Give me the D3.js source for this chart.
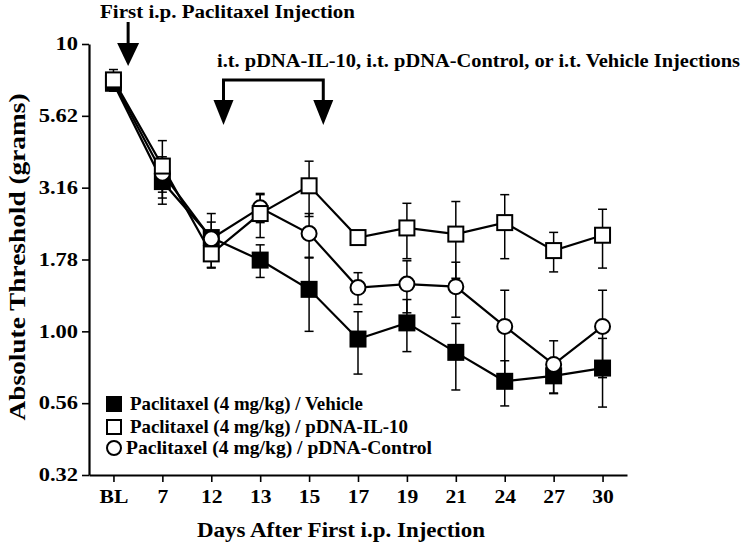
<!DOCTYPE html>
<html>
<head>
<meta charset="utf-8">
<script src="https://cdn.jsdelivr.net/npm/d3@7"></script>
<style>
  body { margin: 0; background: #fff; }
  text { font-family: "Liberation Serif", "Times New Roman", serif; font-weight: bold; fill: #000; }
</style>
</head>
<body>
<div id="chart"></div>
<script>
// days after first i.p. injection
var days = ["BL", "7", "12", "13", "15", "17", "19", "21", "24", "27", "30"];

// Paclitaxel / Vehicle (filled squares)
var vehicle = [7.3, 3.32, 2.12, 1.77, 1.40, 0.94, 1.07, 0.845, 0.67, 0.70, 0.745];
var vehicleSem = [0.3, 0.55, 0.45, 0.23, 0.4, 0.23, 0.22, 0.22, 0.12, 0.09, 0.2];

// Paclitaxel / pDNA-IL-10 (open squares)
var il10 = [7.5, 3.76, 1.86, 2.57, 3.21, 2.12, 2.29, 2.18, 2.39, 1.91, 2.16];
var il10Sem = [0.65, 0.85, 0.2, 0.45, 0.7, 0.1, 0.5, 0.65, 0.6, 0.3, 0.5];

// Paclitaxel / pDNA-Control (open circles)
var control = [7.4, 3.55, 2.1, 2.69, 2.19, 1.42, 1.46, 1.43, 1.04, 0.767, 1.04];
var controlSem = [0.3, 0.5, 0.3, 0.3, 0.38, 0.18, 0.3, 0.31, 0.35, 0.16, 0.35];

var yTicks = [Math.pow(10, -0.5), Math.pow(10, -0.25), 1, Math.pow(10, 0.25), Math.pow(10, 0.5), Math.pow(10, 0.75), 10];
var yTickLabels = ["0.32", "0.56", "1.00", "1.78", "3.16", "5.62", "10"];

var legendLabels = [
  "Paclitaxel (4 mg/kg) / Vehicle",
  "Paclitaxel (4 mg/kg) / pDNA-IL-10",
  "Paclitaxel (4 mg/kg) / pDNA-Control"
];

var svgWidth = 746;
var svgHeight = 545;

var svg = d3.select("#chart")
  .append("svg")
  .attr("width", svgWidth)
  .attr("height", svgHeight);

// the original lettering is a bit wider than Liberation Serif, so stretch glyphs
function widen(sel, factor) {
  sel.each(function() {
    var len = this.getComputedTextLength();
    d3.select(this)
      .attr("textLength", len * factor)
      .attr("lengthAdjust", "spacingAndGlyphs");
  });
}

var x = d3.scalePoint()
  .domain(days)
  .range([89, 627])
  .padding(0.5);

var y = d3.scaleLog()
  .domain([Math.pow(10, -0.5), 10])
  .range([475, 44]);

// axes
var leftAxis = d3.axisLeft(y)
  .tickValues(yTicks)
  .tickFormat(function(d, i) { return yTickLabels[i]; })
  .tickSize(7)
  .tickSizeOuter(0)
  .tickPadding(4);

var yAxisG = svg.append("g")
  .attr("transform", "translate(89,0)")
  .call(leftAxis);
yAxisG.select(".domain").attr("stroke-width", 2.2);
yAxisG.selectAll(".tick line").attr("stroke-width", 1.6);
yAxisG.selectAll("text")
  .style("font-size", "18px")
  .attr("font-family", null)
  .call(widen, 1.25);

var bottomAxis = d3.axisBottom(x)
  .tickSize(7)
  .tickSizeOuter(0)
  .tickPadding(8);

var xAxisG = svg.append("g")
  .attr("transform", "translate(0,475)")
  .call(bottomAxis);
xAxisG.select(".domain").attr("stroke-width", 2.2);
xAxisG.selectAll(".tick line").attr("stroke-width", 1.6);
xAxisG.selectAll("text")
  .style("font-size", "18px")
  .attr("font-family", null)
  .call(widen, 1.2);

// axis titles
svg.append("text")
  .attr("transform", "translate(25,257) rotate(-90)")
  .attr("text-anchor", "middle")
  .style("font-size", "23px")
  .text("Absolute Threshold (grams)")
  .attr("textLength", 327)
  .attr("lengthAdjust", "spacingAndGlyphs");

svg.append("text")
  .attr("x", 341)
  .attr("y", 537)
  .attr("text-anchor", "middle")
  .style("font-size", "21px")
  .text("Days After First i.p. Injection")
  .attr("textLength", 288)
  .attr("lengthAdjust", "spacingAndGlyphs");

// annotations
svg.append("text")
  .attr("x", 100)
  .attr("y", 18)
  .style("font-size", "18px")
  .text("First i.p. Paclitaxel Injection")
  .attr("textLength", 255)
  .attr("lengthAdjust", "spacingAndGlyphs");

var arrowX = x("BL") + x.step() * 0.3;
svg.append("line")
  .attr("x1", arrowX).attr("x2", arrowX)
  .attr("y1", 22).attr("y2", 45)
  .attr("stroke", "#000")
  .attr("stroke-width", 3);
svg.append("path")
  .attr("d", `M${arrowX - 11},43 L${arrowX + 11},43 L${arrowX},66 Z`)
  .attr("fill", "#000");

svg.append("text")
  .attr("x", 217)
  .attr("y", 67)
  .style("font-size", "18px")
  .text("i.t. pDNA-IL-10, i.t. pDNA-Control, or i.t. Vehicle Injections")
  .attr("textLength", 523)
  .attr("lengthAdjust", "spacingAndGlyphs");

var bx1 = x("12") + x.step() * 0.25;
var bx2 = x("15") + x.step() * 0.29;
svg.append("path")
  .attr("d", `M${bx1},103 L${bx1},80 L${bx2},80 L${bx2},103`)
  .attr("fill", "none")
  .attr("stroke", "#000")
  .attr("stroke-width", 3);
[bx1, bx2].forEach(function(bx) {
  svg.append("path")
    .attr("d", `M${bx - 10},100 L${bx + 10},100 L${bx},125 Z`)
    .attr("fill", "#000");
});

// series
var series = [
  { values: vehicle, sem: vehicleSem, shape: "square", fill: "#000" },
  { values: control, sem: controlSem, shape: "circle", fill: "#fff" },
  { values: il10, sem: il10Sem, shape: "square", fill: "#fff" }
];

var line = d3.line()
  .x(function(d, i) { return x(days[i]); })
  .y(function(d) { return y(d); });

var chartGroup = svg.append("g");

series.forEach(function(s) {
  chartGroup.append("path")
    .datum(s.values)
    .attr("d", line)
    .attr("fill", "none")
    .attr("stroke", "#000")
    .attr("stroke-width", 2.2);
});

// error bars
series.forEach(function(s) {
  s.values.forEach(function(v, i) {
    var cx = x(days[i]);
    var top = y(v + s.sem[i]);
    var bot = y(v - s.sem[i]);
    chartGroup.append("line")
      .attr("x1", cx).attr("x2", cx)
      .attr("y1", top).attr("y2", bot)
      .attr("stroke", "#000").attr("stroke-width", 1.5);
    [top, bot].forEach(function(yy) {
      chartGroup.append("line")
        .attr("x1", cx - 4.5).attr("x2", cx + 4.5)
        .attr("y1", yy).attr("y2", yy)
        .attr("stroke", "#000").attr("stroke-width", 1.5);
    });
  });
});

// markers
function drawMarker(g, shape, fill, cx, cy, size) {
  if (shape === "square") {
    g.append("rect")
      .attr("x", cx - size / 2).attr("y", cy - size / 2)
      .attr("width", size).attr("height", size)
      .attr("fill", fill)
      .attr("stroke", "#000")
      .attr("stroke-width", 2);
  } else {
    g.append("circle")
      .attr("cx", cx).attr("cy", cy)
      .attr("r", size / 2)
      .attr("fill", fill)
      .attr("stroke", "#000")
      .attr("stroke-width", 2);
  }
}

series.forEach(function(s) {
  s.values.forEach(function(v, i) {
    drawMarker(chartGroup, s.shape, s.fill, x(days[i]), y(v), 15);
  });
});

// legend
var legendRows = [
  { shape: "square", fill: "#000", y: 404, tx: 130, len: 233 },
  { shape: "square", fill: "#fff", y: 427, tx: 130, len: 278 },
  { shape: "circle", fill: "#fff", y: 448, tx: 126, len: 306 }
];
legendRows.forEach(function(r, i) {
  drawMarker(svg, r.shape, r.fill, 114, r.y, 14);
  svg.append("text")
    .attr("x", r.tx)
    .attr("y", r.y + 6)
    .style("font-size", "19px")
    .text(legendLabels[i])
    .attr("textLength", r.len)
    .attr("lengthAdjust", "spacingAndGlyphs");
});
</script>
</body>
</html>
